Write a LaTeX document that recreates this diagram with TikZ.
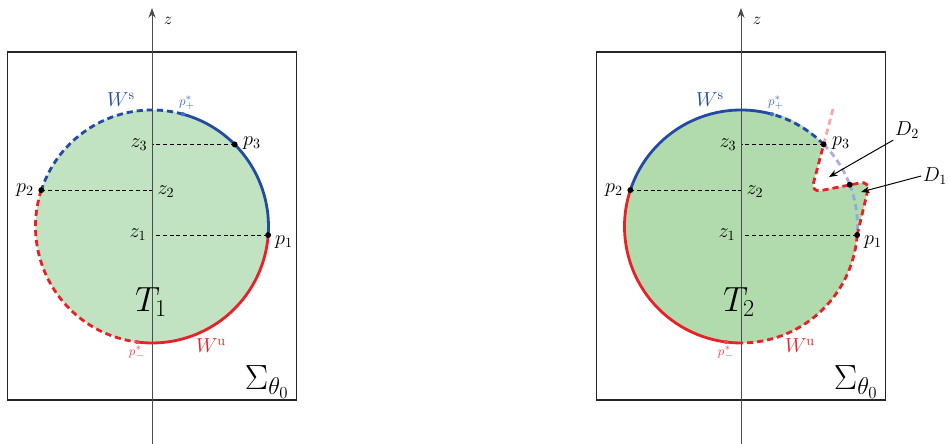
\documentclass[tikz,border=0pt]{standalone}
\usepackage{tikz}
\usetikzlibrary{positioning,arrows.meta,calc}

\definecolor{wsblue}{RGB}{35,75,165}
\definecolor{wured}{RGB}{232,32,40}
\definecolor{fillA}{RGB}{194,227,194}
\definecolor{fillB}{RGB}{178,219,173}
\definecolor{ghostblue}{RGB}{140,172,226}
\definecolor{ghostviolet}{RGB}{178,170,222}
\definecolor{ghostred}{RGB}{246,168,172}
\definecolor{starblue}{RGB}{70,110,200}
\definecolor{starred}{RGB}{236,70,80}

\newcommand{\rad}{116.5}

\begin{document}
\begin{tikzpicture}[
  x=0.025cm, y=0.025cm,
  >={Stealth[length=6pt,width=4.5pt]},
  sigmabox/.style={draw=black!85, line width=0.9pt},
  zaxis/.style={draw=black!70, line width=0.7pt, -{Stealth[length=7pt,width=5pt]}},
  zline/.style={draw=black, dash pattern=on 2.8pt off 2pt, line width=0.6pt},
  stab/.style={draw=wsblue, line width=2pt},
  unst/.style={draw=wured, line width=2pt},
  brk/.style={dash pattern=on 4.4pt off 2.8pt},
  lbl/.style={font=\fontsize{14.5}{16}\selectfont, inner sep=1pt},
  starlbl/.style={font=\fontsize{9.5}{11}\selectfont, inner sep=1pt},
  bigsym/.style={font=\fontsize{23}{26}\selectfont, inner sep=1pt},
  pointer/.style={->, draw=black, line width=0.7pt},
]
\useasboundingbox (0,0) rectangle (950,444);

%---------- key points (circle centres, crossings) ----------
\coordinate (c1) at (152,217.5);
\coordinate (c2) at (741,217.5);
\path (c1) ++(-4.2:\rad)  coordinate (lp1)
      (c1) ++(161.8:\rad) coordinate (lp2)
      (c1) ++(44.8:\rad)  coordinate (lp3)
      (c1) ++(74.6:\rad)  coordinate (lpp)
      (c1) ++(262.6:\rad) coordinate (lpm);
\path (c2) ++(-4.2:\rad)  coordinate (rp1)
      (c2) ++(161.8:\rad) coordinate (rp2)
      (c2) ++(44.8:\rad)  coordinate (rp3)
      (c2) ++(74.6:\rad)  coordinate (rpp)
      (c2) ++(262.6:\rad) coordinate (rpm)
      (c2) ++(268:\rad)   coordinate (rbot)
      (c2) ++(21:\rad)    coordinate (rd);
% corners of the fold
\coordinate (rk1) at (811,251.5);
\coordinate (rk2) at (870,263);
\coordinate (ghostend) at ($(rk1)!1.8!(rp3)$);

%---------- left panel ----------
\fill[fillA] (c1) circle[radius=\rad];
\draw[sigmabox] (7.5,44) rectangle (296.7,392);

\draw[zline] (lp3) -- (lp3 -| c1);
\draw[zline] (lp2) -- (lp2 -| c1);
\draw[zline] (lp1) -- (lp1 -| c1);

\draw[zaxis] (152,0) -- (152,436);

\draw[stab, brk] (lpp) arc[start angle=74.6, end angle=161.8, radius=\rad];
\draw[stab] (lp1) arc[start angle=-4.2, end angle=74.6, radius=\rad];
\draw[unst, brk] (lp2) arc[start angle=161.8, end angle=262.6, radius=\rad];
\draw[unst] (lpm) arc[start angle=262.6, end angle=355.8, radius=\rad];

%---------- right panel ----------
\fill[fillB] (rp1) [rounded corners=7pt] -- (rk2) -- (rk1) -- (rp3)
  [sharp corners] arc[start angle=44.8, end angle=355.8, radius=\rad] -- cycle;
\draw[sigmabox] (596.5,44) rectangle (885.7,392);

\draw[zline] (rp3) -- (rp3 -| c2);
\draw[zline] (rp2) -- (rp2 -| c2);
\draw[zline] (rp1) -- (rp1 -| c2);

\draw[zaxis] (741,0) -- (741,436);

% old boundary, faded
\draw[ghostred, line width=2pt, brk] (rp3) -- (ghostend);
\draw[ghostviolet, line width=2pt, brk] (rp3) arc[start angle=44.8, end angle=21, radius=\rad];
\draw[ghostblue, line width=2pt, brk] (rd) arc[start angle=21, end angle=-4.2, radius=\rad];

\draw[stab] (rpp) arc[start angle=74.6, end angle=161.8, radius=\rad];
\draw[stab, brk] (rp3) arc[start angle=44.8, end angle=74.6, radius=\rad];
\draw[unst] (rp2) arc[start angle=161.8, end angle=268, radius=\rad];
\draw[unst, brk] (rbot) arc[start angle=268, end angle=355.8, radius=\rad];
\draw[unst, brk, rounded corners=7pt] (rp1) -- (rk2) -- (rk1) -- (rp3);

%---------- points ----------
\foreach \pt in {lp1,lp2,lp3,rp1,rp2,rp3,rd}{
  \fill (\pt) circle[radius=2.1pt];
}
\fill[starblue] (lpp) circle[radius=1.5pt];
\fill[starblue] (rpp) circle[radius=1.5pt];
\fill[starred] (lpm) circle[radius=1.5pt];
\fill[starred] (rpm) circle[radius=1.5pt];

%---------- labels, left ----------
\node[font=\fontsize{12}{14}\selectfont] (zl) at (168,423) {$z$};
\node[lbl, text=wsblue] (wsl) at (121,344) {$W^{\mathrm{s}}$};
\node[starlbl, text=starblue] (ppl) at (187,341) {$p_+^*$};
\node[lbl] (z3l) at (139,299) {$z_3$};
\node[lbl] (z2l) at (166,252) {$z_2$};
\node[lbl] (z1l) at (138,209) {$z_1$};
\node[lbl] (p3l) at (252,301) {$p_3$};
\node[lbl] (p2l) at (25,254) {$p_2$};
\node[lbl] (p1l) at (284,202) {$p_1$};
\node[bigsym] (t1) at (151,142) {$T_1$};
\node[lbl, text=wured] (wul) at (211,98) {$W^{\mathrm{u}}$};
\node[starlbl, text=starred] (pml) at (137,91) {$p_-^*$};
\node[bigsym] (sgl) at (267,62) {$\Sigma_{\theta_0}$};

%---------- labels, right ----------
\node[font=\fontsize{12}{14}\selectfont] (zr) at (757,423) {$z$};
\node[lbl, text=wsblue] (wsr) at (710,344) {$W^{\mathrm{s}}$};
\node[starlbl, text=starblue] (ppr) at (776,341) {$p_+^*$};
\node[lbl] (z3r) at (728,299) {$z_3$};
\node[lbl] (z2r) at (755,252) {$z_2$};
\node[lbl] (z1r) at (727,209) {$z_1$};
\node[lbl] (p3r) at (841,301) {$p_3$};
\node[lbl] (p2r) at (614,254) {$p_2$};
\node[lbl] (p1r) at (873,202) {$p_1$};
\node[bigsym] (t2) at (739,142) {$T_2$};
\node[lbl, text=wured] (wur) at (800,98) {$W^{\mathrm{u}}$};
\node[starlbl, text=starred] (pmr) at (726,91) {$p_-^*$};
\node[bigsym] (sgr) at (856,62) {$\Sigma_{\theta_0}$};

\node[lbl] (d2) at (907,314) {$D_2$};
\node[lbl] (d1) at (935,268) {$D_1$};
\coordinate (d2tip) at (829,267);
\coordinate (d1tip) at (861,252);
\draw[pointer] (d2.south west) -- (d2tip);
\draw[pointer] (d1.west) -- (d1tip);

\end{tikzpicture}
\end{document}
